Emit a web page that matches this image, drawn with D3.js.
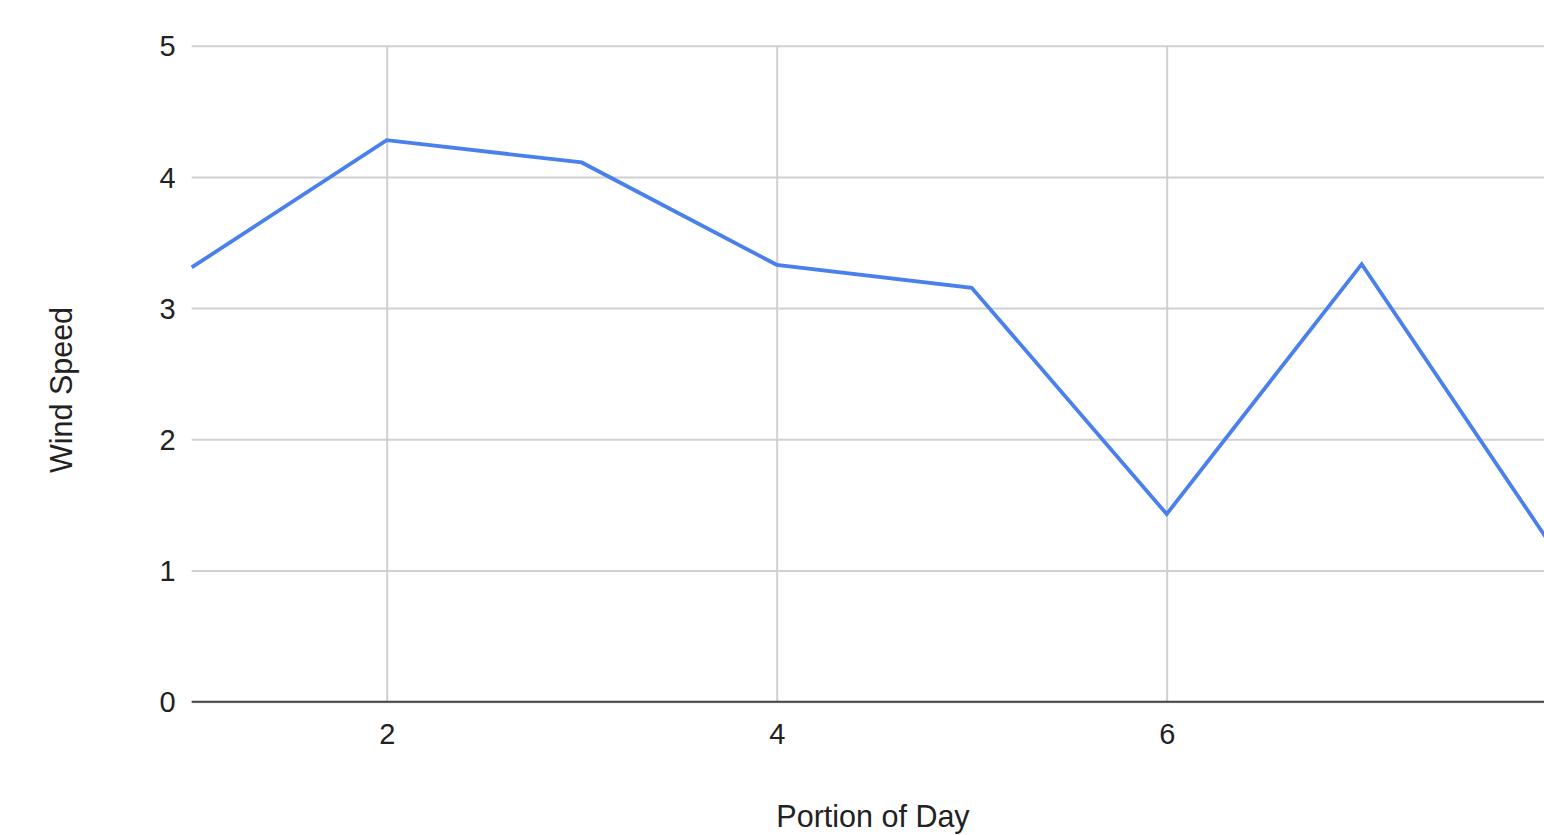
<!DOCTYPE html>
<html>
<head>
<meta charset="utf-8">
<script src="https://cdn.jsdelivr.net/npm/d3@7"></script>
<style>
  html, body { margin: 0; padding: 0; background: #fff; overflow: hidden; }
  svg { display: block; font-family: "Liberation Sans", Arial, sans-serif; }
</style>
</head>
<body>
<svg id="chart" width="1544" height="835"></svg>
<script>
// Wind speed through the day
const portions = [1, 2, 3, 4, 5, 6, 7, 8];
const windSpeed = [3.31, 4.28, 4.11, 3.33, 3.155, 1.43, 3.335, 1.13];
const xTicks = [2, 4, 6];
const yTicks = [0, 1, 2, 3, 4, 5];

const svg = d3.select("#chart");
const margin = { left: 191.7, top: 45.7, bottom: 701.7, right: 1556.7 };

const x = d3.scaleLinear().domain([1, 8]).range([margin.left, margin.right]);
const y = d3.scaleLinear().domain([0, 5]).range([margin.bottom, margin.top]);

// horizontal gridlines and y tick labels
const yAxis = svg.append("g")
  .attr("transform", `translate(${margin.left},0)`)
  .call(d3.axisLeft(y).tickValues(yTicks).tickSize(-(margin.right - margin.left)).tickPadding(16).tickFormat(d3.format("d")));
yAxis.select(".domain").remove();
yAxis.selectAll(".tick line").attr("stroke", "#d0d0d0").attr("stroke-width", 2);
yAxis.selectAll(".tick text").attr("font-size", 29).attr("fill", "#222").attr("dy", "0.35em");

// vertical gridlines and x tick labels
const xAxis = svg.append("g")
  .attr("transform", `translate(0,${margin.bottom})`)
  .call(d3.axisBottom(x).tickValues(xTicks).tickSize(-(margin.bottom - margin.top)).tickPadding(22).tickFormat(d3.format("d")));
xAxis.select(".domain").remove();
xAxis.selectAll(".tick line").attr("stroke", "#d0d0d0").attr("stroke-width", 2);
xAxis.selectAll(".tick text").attr("font-size", 29).attr("fill", "#222");

// baseline at zero
svg.append("line")
  .attr("x1", margin.left).attr("x2", margin.right)
  .attr("y1", y(0)).attr("y2", y(0))
  .attr("stroke", "#444").attr("stroke-width", 2);

// series line
const line = d3.line().x((d, i) => x(portions[i])).y(d => y(d));
svg.append("path")
  .datum(windSpeed)
  .attr("d", line)
  .attr("fill", "none")
  .attr("stroke", "#4a80ec")
  .attr("stroke-width", 3.8)
  .attr("stroke-linejoin", "miter");

// axis titles
svg.append("text")
  .attr("x", 873).attr("y", 827)
  .attr("text-anchor", "middle")
  .attr("font-size", 30.5).attr("fill", "#222")
  .text("Portion of Day");

svg.append("text")
  .attr("transform", "translate(72,390) rotate(-90)")
  .attr("text-anchor", "middle")
  .attr("font-size", 30.5).attr("fill", "#222")
  .text("Wind Speed");
</script>
</body>
</html>
